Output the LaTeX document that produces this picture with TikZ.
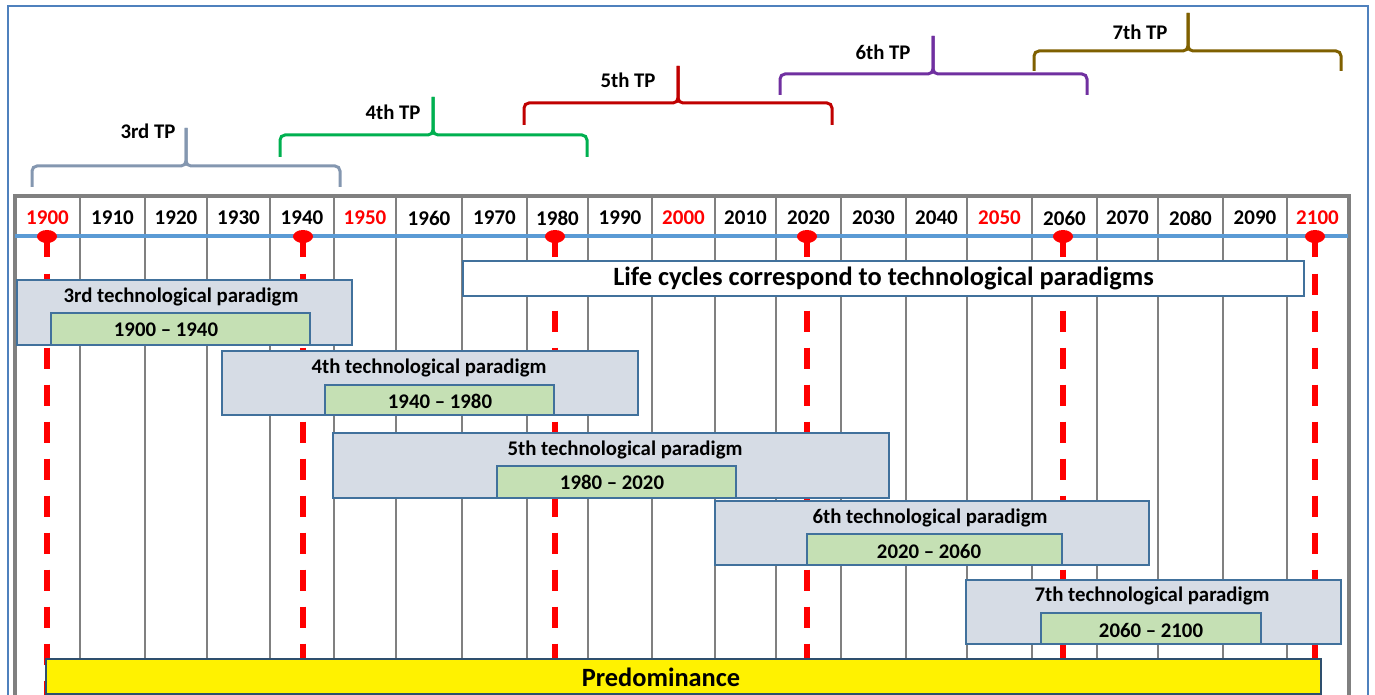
\documentclass[tikz,border=0pt]{standalone}
\usepackage{fontspec}
\setmainfont{Carlito}
\usetikzlibrary{fit,shapes.geometric}
\definecolor{gridgray}{HTML}{808080}
\definecolor{axisblue}{HTML}{5B9BD5}
\definecolor{framblue}{HTML}{4F81BD}
\definecolor{boxborder}{HTML}{41719C}
\definecolor{tpfill}{HTML}{D6DCE5}
\definecolor{grfill}{HTML}{C5E0B4}
\definecolor{yearred}{HTML}{FF0000}
\definecolor{bThree}{HTML}{8497B0}
\definecolor{bFour}{HTML}{00B050}
\definecolor{bFive}{HTML}{C00000}
\definecolor{bSix}{HTML}{7030A0}
\definecolor{bSeven}{HTML}{7F6000}
\begin{document}
\begin{tikzpicture}[x=0.5pt,y=-0.5pt,
  tpbox/.style={draw=boxborder,fill=tpfill,line width=0.75pt,inner sep=0pt},
  grbox/.style={draw=boxborder,fill=grfill,line width=0.75pt,inner sep=0pt},
  whitebox/.style={draw=boxborder,fill=white,line width=0.75pt,inner sep=0pt},
  yellowbox/.style={draw=boxborder!70!black,fill=yellow,line width=0.75pt,inner sep=0pt},
  lbl/.style={font=\bfseries\fontsize{10.4}{12}\selectfont,inner sep=0pt},
  yrlbl/.style={font=\bfseries\fontsize{10.5}{12}\selectfont,inner sep=0pt},
  biglbl/.style={font=\bfseries\fontsize{13.2}{15}\selectfont,inner sep=0pt},
  gridline/.style={draw=gridgray,line width=1.4pt},
  pinhead/.style={ellipse,fill=yearred,draw=none,minimum width=10pt,minimum height=6.5pt,inner sep=0pt},
  pinline/.style={draw=yearred,line width=2.75pt,dash pattern=on 10.5pt off 8pt},
  bracestyle/.style={line width=1.5pt,rounded corners=2.5pt},
]
\useasboundingbox (0,0) rectangle (1375,695);
% outer blue frame
\draw[framblue,line width=0.75pt] (8,700) -- (8,6) -- (1368,6) -- (1368,700);
% inner gray grid
\foreach \xx in {80,145,207,270,334,396,462,527,588,652,715,776,841,906,967,1032,1097,1158,1223,1287}
  \draw[gridline] (\xx,196) -- (\xx,700);
\draw[draw=gridgray,line width=2pt] (15,700) -- (15,196) -- (1349,196) -- (1349,700);
% axis line
\draw[axisblue,line width=2pt] (15,236) -- (1348,236);
% year labels
\foreach \yr/\xl/\xr/\cc in {1900/15/80/yearred,1910/80/145/black,1920/145/207/black,1930/207/270/black,1940/270/334/black,1950/334/396/yearred,1960/396/462/black,1970/462/527/black,1980/527/588/black,1990/588/652/black,2000/652/715/yearred,2010/715/776/black,2020/776/841/black,2030/841/906/black,2040/906/967/black,2050/967/1032/yearred,2060/1032/1097/black,2070/1097/1158/black,2080/1158/1223/black,2090/1223/1287/black,2100/1287/1348/yearred}
  \node[yrlbl,text=\cc] (y\yr) at ({(\xl+\xr)/2},218) {\yr};
% pins and red dashed lines
\foreach \yr/\px in {1900/47,1940/303,1980/555,2020/807,2060/1063,2100/1315}{
  \coordinate (e\yr) at (\px,700);
  \node[pinhead] (pin\yr) at (\px,236.5) {};
  \draw[pinline] (pin\yr.center) -- (e\yr);
}
% paradigm boxes
\node[tpbox,fit={(17,280)(352,345)}] (tp3) {};
\node[lbl] (tp3t) at (181,297) {3rd technological paradigm};
\node[grbox,fit={(51,313)(310,345)}] (gr3) {};
\node[lbl] (gr3t) at (166,330) {1900 – 1940};

\node[tpbox,fit={(222,351)(638,415)}] (tp4) {};
\node[lbl] (tp4t) at (429,368) {4th technological paradigm};
\node[grbox,fit={(325,385)(554,415)}] (gr4) {};
\node[lbl] (gr4t) at (440,401) {1940 – 1980};

\node[tpbox,fit={(333,433)(889,498)}] (tp5) {};
\node[lbl] (tp5t) at (625,450) {5th technological paradigm};
\node[grbox,fit={(497,466)(736,498)}] (gr5) {};
\node[lbl] (gr5t) at (612,482) {1980 – 2020};

\node[tpbox,fit={(715,501)(1149,565)}] (tp6) {};
\node[lbl] (tp6t) at (930,518) {6th technological paradigm};
\node[grbox,fit={(807,534)(1062,565)}] (gr6) {};
\node[lbl] (gr6t) at (929,551) {2020 – 2060};

\node[tpbox,fit={(966,580)(1341,644)}] (tp7) {};
\node[lbl] (tp7t) at (1152,596) {7th technological paradigm};
\node[grbox,fit={(1041,613)(1261,644)}] (gr7) {};
\node[lbl] (gr7t) at (1151,630) {2060 – 2100};

% life cycles
\node[whitebox,fit={(463,261)(1304,296)}] (lc) {};
\node[biglbl] (lct) at (lc.center) {Life cycles correspond to technological paradigms};
% predominance
\node[yellowbox,fit={(46,659)(1321,694)}] (pd) {};
\node[biglbl] (pdt) at (661,677) {Predominance};

% braces
\foreach \cc/\xa/\xb/\yb/\ybar/\xm/\yt/\lx/\ly/\tx in {
   bThree/32/340/187/166/186/128/148/131/3rd TP,
   bFour/280/587/157/135/433/97/393/112/4th TP,
   bFive/524/832/125/103/678/66/628/80/5th TP,
   bSix/780/1087/95/74/933/36/883/52/6th TP,
   bSeven/1034/1341/71/51/1188/13/1140/32/7th TP}{
  \coordinate (bl\xm) at (\xa,\yb);
  \coordinate (br\xm) at (\xb,\yb);
  \coordinate (bt\xm) at (\xm,\yt);
  \draw[bracestyle,draw=\cc] (bl\xm) -- (\xa,\ybar) -- (\xm,\ybar) -- (bt\xm);
  \draw[bracestyle,draw=\cc] (br\xm) -- (\xb,\ybar) -- (\xm,\ybar) -- (bt\xm);
  \node[lbl] (tl\xm) at (\lx,\ly) {\tx};
}
\end{tikzpicture}
\end{document}
